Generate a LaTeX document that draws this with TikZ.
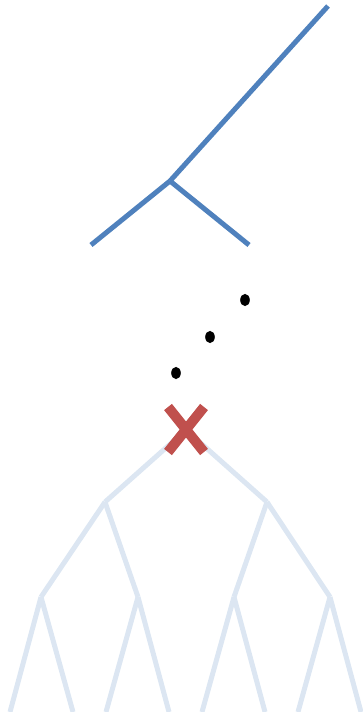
\documentclass[tikz,border=0pt]{standalone}
\usepackage{tikz}
\usetikzlibrary{positioning}
\definecolor{trunkblue}{RGB}{79, 129, 189}
\definecolor{cutred}{RGB}{192, 80, 77}
\definecolor{paleblue}{RGB}{220, 230, 242}

\begin{document}
\begin{tikzpicture}[x=0.75pt, y=-0.75pt,
    branch/.style={line width=3.75pt, trunkblue},
    ghost/.style={line width=3.75pt, paleblue},
    cut/.style={line width=7.5pt, cutred}]
  \useasboundingbox (0,0) rectangle (363,712);
  % Surviving branch
  \begin{scope}
    \coordinate (top) at (328,6);
    \coordinate (fork) at (170,181);
    \coordinate (tipL) at (91,245);
    \coordinate (tipR) at (249,245);
    \draw[branch] (top) -- (fork);
    \draw[branch] (fork) -- (tipL);
    \draw[branch] (fork) -- (tipR);
  \end{scope}
  % Ellipsis dots
  \foreach \x/\y in {245/300, 210/337, 176/373} {
    \fill[black] (\x,\y) ellipse (3.6pt and 4.6pt);
  }
  % Pruned subtree
  \begin{scope}
    \coordinate (root) at (186,430);
    \coordinate (a) at (105,502);
    \coordinate (b) at (267,502);
    \coordinate (aa) at (41,597);
    \coordinate (ab) at (138,597);
    \coordinate (ba) at (234,597);
    \coordinate (bb) at (330,597);
    \draw[ghost] (root) -- (a);
    \draw[ghost] (root) -- (b);
    \draw[ghost] (a) -- (aa);
    \draw[ghost] (a) -- (ab);
    \draw[ghost] (b) -- (ba);
    \draw[ghost] (b) -- (bb);
    \foreach \p/\l/\r in {aa/10/73, ab/106/169, ba/202/265, bb/298/361} {
      \coordinate (\p-l) at (\l,712);
      \coordinate (\p-r) at (\r,712);
      \draw[ghost] (\p) -- (\p-l);
      \draw[ghost] (\p) -- (\p-r);
    }
    % cross over the root
    \coordinate (xnw) at (168,407);
    \coordinate (xne) at (204,407);
    \coordinate (xsw) at (168,452);
    \coordinate (xse) at (204,452);
    \draw[cut] (xnw) -- (xse);
    \draw[cut] (xne) -- (xsw);
  \end{scope}
\end{tikzpicture}
\end{document}
